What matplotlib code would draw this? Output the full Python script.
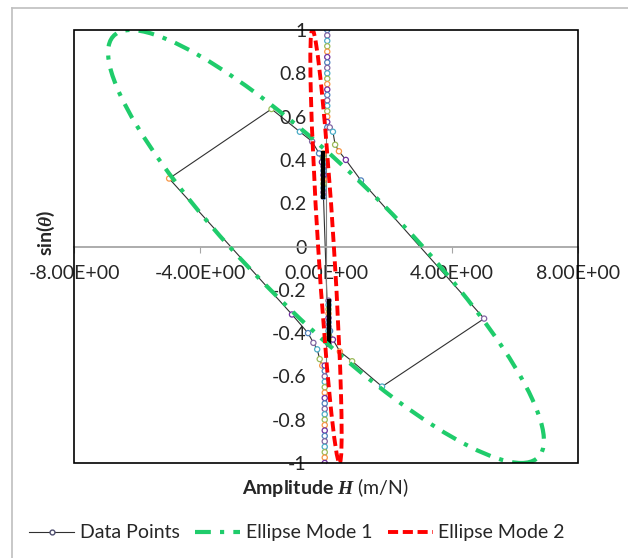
import matplotlib
matplotlib.use("Agg")
import matplotlib.pyplot as plt
from matplotlib.patches import Circle, Rectangle
from matplotlib.transforms import Affine2D
from matplotlib.lines import Line2D

plt.rcParams['font.family'] = ['Lato', 'DejaVu Sans']
plt.rcParams['mathtext.fontset'] = 'custom'
plt.rcParams['mathtext.rm'] = 'Lato'
plt.rcParams['mathtext.bf'] = 'Lato:bold'
plt.rcParams['mathtext.it'] = 'Liberation Serif:italic'
plt.rcParams['mathtext.bfit'] = 'Liberation Serif:bold:italic'

# ---- data ----
x_ticks = [-8, -4, 0, 4, 8]
x_tick_labels = ['-8.00E+00', '-4.00E+00', '0.00E+00', '4.00E+00', '8.00E+00']
y_ticks = [1, 0.8, 0.6, 0.4, 0.2, 0, -0.2, -0.4, -0.6, -0.8, -1]
y_tick_labels = ['1', '0.8', '0.6', '0.4', '0.2', '0', '-0.2', '-0.4', '-0.6', '-0.8', '-1']

# upper column of measured points
top_col_y = [1.0, 0.975, 0.95, 0.925, 0.9, 0.875, 0.85, 0.825, 0.8, 0.775, 0.75,
             0.725, 0.7, 0.675, 0.65, 0.625, 0.6, 0.575, 0.55]
top_col_x = [0.04] * len(top_col_y)

# branch going out to the right
right_x = [0.12, 0.22, 0.29, 0.41, 0.63, 1.11, 5.02, 1.78, 0.83, 0.44, 0.22, 0.13]
right_y = [0.55, 0.53, 0.47, 0.44, 0.40, 0.305, -0.333, -0.647, -0.53, -0.485, -0.43, -0.39]

# dense clusters near the centre
dense_lo_y = [-0.45, -0.43, -0.41, -0.39, -0.37, -0.35, -0.33, -0.31, -0.29, -0.27, -0.25]
dense_lo_x = [0.08] * len(dense_lo_y)
dense_up_y = [0.23, 0.25, 0.27, 0.29, 0.31, 0.33, 0.35, 0.37, 0.39, 0.41, 0.43]
dense_up_x = [-0.08] * len(dense_up_y)

# branch going out to the left
left_x = [-0.13, -0.22, -0.44, -0.83, -1.73, -4.98, -1.08, -0.57, -0.40, -0.28, -0.20, -0.12]
left_y = [0.39, 0.43, 0.485, 0.53, 0.635, 0.314, -0.314, -0.40, -0.445, -0.475, -0.52, -0.55]

# lower column of measured points
bot_col_y = [-0.55, -0.575, -0.6, -0.625, -0.65, -0.675, -0.7, -0.725, -0.75, -0.775,
             -0.8, -0.825, -0.85, -0.875, -0.9, -0.925, -0.95, -0.975, -1.0]
bot_col_x = [-0.04] * len(bot_col_y)

# fitted ellipses: x where sin=1 and x where sin=0
mode1_x_top, mode1_x_zero = -6.2, 3.07
mode2_x_top, mode2_x_zero = -0.43, 0.25

data_x = top_col_x + right_x + dense_lo_x[::-1] + dense_up_x + left_x + bot_col_x
data_y = top_col_y + right_y + dense_lo_y[::-1] + dense_up_y + left_y + bot_col_y

marker_colors = ['#4f81bd', '#8064a2', '#4bacc6', '#9bbb59', '#f79646', '#7030a0']
green = '#1fcc6b'
red = '#ff0000'
fs = 14

fig = plt.figure(figsize=(6.28, 5.58), dpi=100)
ax = fig.add_axes([74/628, 1-463/558, 504/628, 433/558])

# data points
ax.plot(data_x, data_y, color='#303030', lw=0.8, zorder=2)
edge = [marker_colors[i % len(marker_colors)] for i in range(len(data_x))]
ax.scatter(data_x, data_y, s=14, facecolors='white', edgecolors=edge, linewidths=0.9, zorder=3)
ax.plot(dense_lo_x, dense_lo_y, color='black', lw=3, zorder=3.5)
ax.plot(dense_up_x, dense_up_y, color='black', lw=3, zorder=3.5)

# ellipses: unit circle mapped through the read values
t1 = Affine2D([[mode1_x_zero, mode1_x_top, 0], [0, 1, 0], [0, 0, 1]]) + ax.transData
e1 = Circle((0, 0), 1, transform=t1, fill=False, ec=green, lw=3,
            linestyle=(0, (3.8, 2.2, 1, 2.2)), zorder=4)
ax.add_patch(e1)
t2 = Affine2D([[mode2_x_zero, mode2_x_top, 0], [0, 1, 0], [0, 0, 1]]) + ax.transData
e2 = Circle((0, 0), 1, transform=t2, fill=False, ec=red, lw=2.8,
            linestyle=(0, (2.6, 1.2)), zorder=5)
ax.add_patch(e2)

ax.set_xlim(-8, 8)
ax.set_ylim(-1, 1)
ax.spines['left'].set_position(('data', 0))
ax.spines['bottom'].set_position(('data', 0))
ax.spines['top'].set_visible(False)
ax.spines['right'].set_visible(False)
ax.spines['left'].set_color('#7f7f7f')
ax.spines['bottom'].set_color('#a6a6a6')
ax.spines['bottom'].set_linewidth(1.3)
ax.add_patch(Rectangle((0, 0), 1, 1, transform=ax.transAxes, fill=False,
                       ec='black', lw=1.2, clip_on=False, zorder=6))

ax.set_xticks(x_ticks)
ax.set_xticklabels(x_tick_labels)
ax.set_yticks(y_ticks)
ax.set_yticklabels(y_tick_labels)
ax.tick_params(axis='x', direction='out', length=4, color='#a6a6a6', pad=9,
               labelsize=fs, labelcolor='#262626')
ax.tick_params(axis='y', length=0, pad=14, labelsize=fs, labelcolor='#262626')

ax.set_xlabel(r'$\mathbf{Amplitude}$ $\boldsymbol{H}$ (m/N)', fontsize=fs, color='#262626')
ax.xaxis.set_label_coords(0.5, -0.03)
ax.set_ylabel(r'$\mathbf{sin(}\boldsymbol{\theta}\mathbf{)}$', fontsize=fs, color='#262626')
ax.yaxis.set_label_coords(-0.034, 0.533)

handles = [
    Line2D([], [], color='#303030', lw=0.8, marker='o', markersize=3.5,
           markerfacecolor='white', markeredgecolor='#4f4f6f'),
    Line2D([], [], color=green, lw=3, linestyle=(0, (3.8, 2.2, 1, 2.2))),
    Line2D([], [], color=red, lw=2.8, linestyle=(0, (2.6, 1.2))),
]
fig.legend(handles, ['Data Points', 'Ellipse Mode 1', 'Ellipse Mode 2'],
           loc='center', bbox_to_anchor=(0.473, 0.045), ncol=3, frameon=False,
           fontsize=fs, handlelength=2.3, handletextpad=0.3, columnspacing=0.8,
           labelcolor='#262626')

# outer chart border (top and left edges visible in crop)
fig.add_artist(Line2D([12/628, 1], [1-8/558, 1-8/558], transform=fig.transFigure,
                      color='#bfbfbf', lw=1.2))
fig.add_artist(Line2D([12/628, 12/628], [0, 1-8/558], transform=fig.transFigure,
                      color='#bfbfbf', lw=1.2))

fig.savefig('out.png', dpi=100)
